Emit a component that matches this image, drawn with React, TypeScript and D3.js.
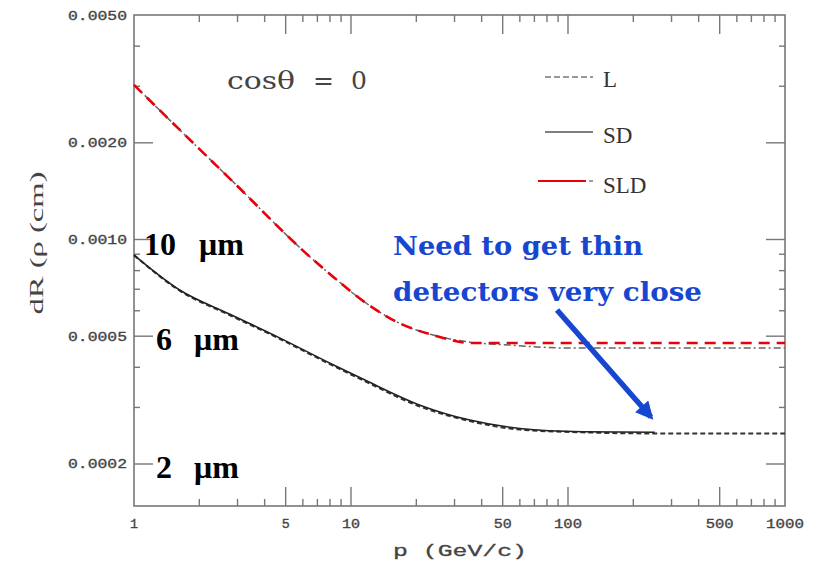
import React from "react";
import * as d3 from "d3";

// ---- data ----
const xTickLabels = ["1", "5", "10", "50", "100", "500", "1000"];
const xTickValues = [1, 5, 10, 50, 100, 500, 1000];
const yTickLabels = ["0.0050", "0.0020", "0.0010", "0.0005", "0.0002"];
const yTickValues = [0.005, 0.002, 0.001, 0.0005, 0.0002];

// upper group (SLD)
const pUpper = [1, 1.63, 2.77, 6.47, 8.26, 11.8, 16.8, 23.9, 36.5, 54, 102, 1000];
const sldRed = [0.00303, 0.00219, 0.001545, 0.000883, 0.000766, 0.000632, 0.000548, 0.000504, 0.000476, 0.000476, 0.000476, 0.000476];
const sldGray = [0.00303, 0.00219, 0.001545, 0.000883, 0.000766, 0.000632, 0.000548, 0.000504, 0.000478, 0.000469, 0.000459, 0.000459];

// lower group (SD, L)
const pSD = [1, 1.63, 2.77, 4.71, 8.0, 11.4, 20.8, 35.3, 60.1, 117, 251];
const sdValues = [0.000894, 0.000695, 0.000585, 0.000493, 0.000412, 0.000367, 0.000305, 0.000274, 0.000258, 0.000252, 0.000251];
const pL = [1, 1.63, 2.77, 4.71, 8.0, 11.4, 20.8, 35.3, 60.1, 117, 251, 1000];
const lValues = [0.000894, 0.000692, 0.000581, 0.00049, 0.000409, 0.000364, 0.000302, 0.000272, 0.000256, 0.000251, 0.000249, 0.000249];

const legendLabels = ["L", "SD", "SLD"];

const W = 820;
const H = 563;
const L0 = 134, R0 = 785, T0 = 15, B0 = 506;

export default function App() {
  const x = d3.scaleLog().domain([1, 1000]).range([L0, R0]);
  const y = d3.scaleLog().domain([0.000148, 0.005]).range([B0, T0]);

  const mk = (ps: number[], vs: number[]) =>
    d3
      .line<number>()
      .x((_, i) => x(ps[i]))
      .y((v) => y(v))
      .curve(d3.curveMonotoneX)(vs) || "";

  // minor ticks
  const xMinor: number[] = [];
  [1, 10, 100].forEach((d) => [2, 3, 4, 6, 7, 8, 9].forEach((m) => xMinor.push(d * m)));
  const yMinor = [0.004, 0.003, 0.0009, 0.0008, 0.0007, 0.0006, 0.0004, 0.0003];
  const xMajor = [5, 10, 50, 100, 500];
  const yMajor = [0.002, 0.001, 0.0005, 0.0002];

  const axisColor = "#777";
  const tickFont = "'Liberation Mono', monospace";
  const blue = "#1747d0";

  return (
    <svg
      width={W}
      height={H}
      style={{ position: "absolute", left: 0, top: 0, background: "#fff" }}
    >
      <rect x={0} y={0} width={W} height={H} fill="#fff" />
      {/* frame */}
      <rect x={L0} y={T0} width={R0 - L0} height={B0 - T0} fill="none" stroke={axisColor} strokeWidth={1.6} />
      {/* x ticks */}
      {xMinor.map((v) => (
        <g key={"xm" + v}>
          <line x1={x(v)} x2={x(v)} y1={B0} y2={B0 - 7} stroke={axisColor} strokeWidth={1.4} />
          <line x1={x(v)} x2={x(v)} y1={T0} y2={T0 + 7} stroke={axisColor} strokeWidth={1.4} />
        </g>
      ))}
      {xMajor.map((v) => (
        <g key={"xM" + v}>
          <line x1={x(v)} x2={x(v)} y1={B0} y2={B0 - 19} stroke={axisColor} strokeWidth={1.4} />
          <line x1={x(v)} x2={x(v)} y1={T0} y2={T0 + 19} stroke={axisColor} strokeWidth={1.4} />
        </g>
      ))}
      {yMinor.map((v) => (
        <g key={"ym" + v}>
          <line x1={L0} x2={L0 + 6} y1={y(v)} y2={y(v)} stroke={axisColor} strokeWidth={1.4} />
          <line x1={R0} x2={R0 - 6} y1={y(v)} y2={y(v)} stroke={axisColor} strokeWidth={1.4} />
        </g>
      ))}
      {yMajor.map((v) => (
        <g key={"yM" + v}>
          <line x1={L0} x2={L0 + 19} y1={y(v)} y2={y(v)} stroke={axisColor} strokeWidth={1.4} />
          <line x1={R0} x2={R0 - 19} y1={y(v)} y2={y(v)} stroke={axisColor} strokeWidth={1.4} />
        </g>
      ))}
      {/* tick labels */}
      {xTickValues.map((v, i) => (
        <text
          key={"xl" + v}
          x={x(v)}
          y={528}
          textAnchor="middle"
          fontFamily={tickFont}
          fontSize={13}
          fill="#444"
          stroke="#444"
          strokeWidth={0.35}
          textLength={xTickLabels[i].length * 10 - 2}
          lengthAdjust="spacingAndGlyphs"
        >
          {xTickLabels[i]}
        </text>
      ))}
      {yTickValues.map((v, i) => (
        <text
          key={"yl" + v}
          x={127}
          y={y(v) + 4.5}
          textAnchor="end"
          fontFamily={tickFont}
          fontSize={13}
          fill="#444"
          stroke="#444"
          strokeWidth={0.35}
          textLength={59}
          lengthAdjust="spacingAndGlyphs"
        >
          {yTickLabels[i]}
        </text>
      ))}
      {/* axis titles */}
      <text
        x={393}
        y={556}
        fontFamily={tickFont}
        fontSize={17}
        fill="#444"
        stroke="#444"
        strokeWidth={0.3}
        textLength={134}
        lengthAdjust="spacingAndGlyphs"
      >
        p (GeV/c)
      </text>
      <text
        transform="translate(43,243) rotate(-90)"
        textAnchor="middle"
        fontFamily="'Liberation Serif', serif"
        fontSize={18}
        fill="#444"
        textLength={143}
        lengthAdjust="spacingAndGlyphs"
      >
        dR (ρ (cm)
      </text>

      {/* curves */}
      <path d={mk(pUpper, sldGray)} fill="none" stroke="#666" strokeWidth={1.5} strokeDasharray="7 3 2 3" />
      <path d={mk(pUpper, sldRed)} fill="none" stroke="#e8000b" strokeWidth={2.6} strokeDasharray="11 7" />
      <path d={mk(pL, lValues)} fill="none" stroke="#333" strokeWidth={2} strokeDasharray="5 3" />
      <path d={mk(pSD, sdValues)} fill="none" stroke="#222" strokeWidth={1.6} />

      {/* legend */}
      <line x1={545} x2={593} y1={77} y2={77} stroke="#777" strokeWidth={1.4} strokeDasharray="6 3" />
      <line x1={545} x2={593} y1={132} y2={132} stroke="#555" strokeWidth={1.6} />
      <line x1={538} x2={586} y1={181} y2={181} stroke="#e8000b" strokeWidth={2.2} />
      <line x1={589} x2={593} y1={181} y2={181} stroke="#777" strokeWidth={1.4} />
      {legendLabels.map((t, i) => (
        <text
          key={t}
          x={603}
          y={[86.5, 143, 193][i]}
          fontFamily="'Liberation Serif', serif"
          fontSize={23}
          fill="#333"
        >
          {t}
        </text>
      ))}

      {/* cos theta */}
      <text x={227} y={89} fontFamily="'DejaVu Serif', serif" fontSize={25} fill="#444" textLength={68} lengthAdjust="spacingAndGlyphs">
        cosθ
      </text>
      <text x={313} y={89} fontFamily="'DejaVu Serif', serif" fontSize={25} fill="#444">
        =
      </text>
      <text x={351} y={89} fontFamily="'DejaVu Serif', serif" fontSize={25} fill="#444">
        0
      </text>

      {/* resolution labels */}
      <text x={144} y={255} fontFamily="'Liberation Serif', serif" fontWeight="bold" fontSize={32} fill="#000">
        10 <tspan x={199}>μm</tspan>
      </text>
      <text x={156} y={350} fontFamily="'Liberation Serif', serif" fontWeight="bold" fontSize={32} fill="#000">
        6 <tspan x={194}>μm</tspan>
      </text>
      <text x={156} y={478} fontFamily="'Liberation Serif', serif" fontWeight="bold" fontSize={32} fill="#000">
        2 <tspan x={194}>μm</tspan>
      </text>

      {/* annotation */}
      <text x={393} y={255} fontFamily="'DejaVu Serif', serif" fontWeight="bold" fontSize={26} fill={blue} textLength={250} lengthAdjust="spacingAndGlyphs">
        Need to get thin
      </text>
      <text x={393} y={301} fontFamily="'DejaVu Serif', serif" fontWeight="bold" fontSize={26} fill={blue} textLength={309} lengthAdjust="spacingAndGlyphs">
        detectors very close
      </text>
      <defs>
        <marker id="ah" viewBox="0 0 10 10" refX={8} refY={5} markerWidth={3.6} markerHeight={3.2} orient="auto" markerUnits="strokeWidth">
          <path d="M0,0 L10,5 L0,10 z" fill={blue} />
        </marker>
      </defs>
      <line x1={557} y1={310} x2={651} y2={417} stroke={blue} strokeWidth={5.5} markerEnd="url(#ah)" />
    </svg>
  );
}
